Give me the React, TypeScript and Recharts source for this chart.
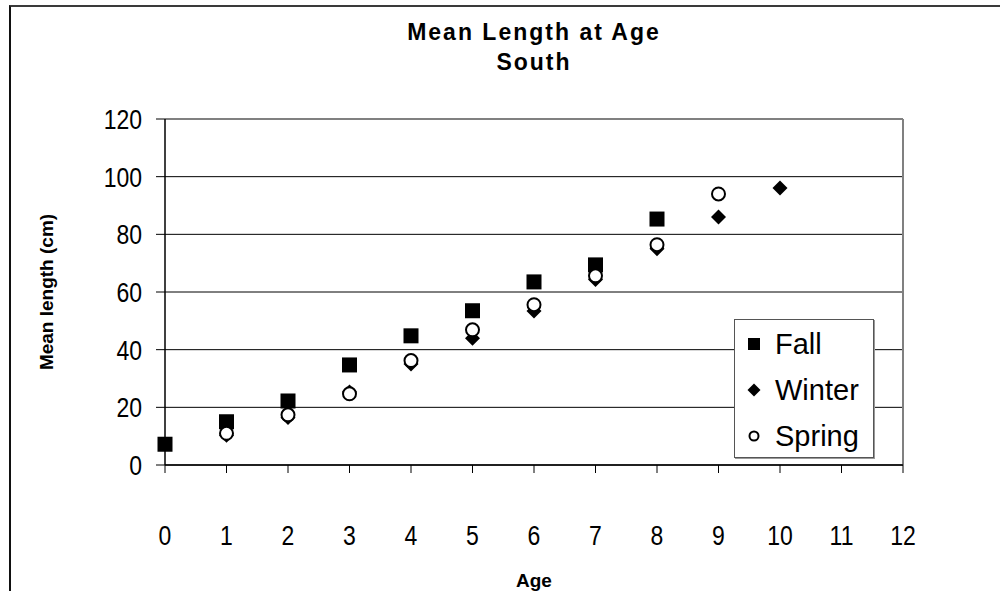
import React from "react";
import {
  ScatterChart,
  Scatter,
  XAxis,
  YAxis,
  CartesianGrid,
  ReferenceLine,
  Legend,
} from "recharts";

const fallAges = [0, 1, 2, 3, 4, 5, 6, 7, 8];
const fallLength = [7.2, 15.0, 22.2, 34.7, 44.8, 53.5, 63.5, 69.4, 85.3];

const winterAges = [1, 2, 3, 4, 5, 6, 7, 8, 9, 10];
const winterLength = [10.3, 16.5, 25.3, 35.0, 44.0, 53.4, 64.3, 75.0, 86.0, 96.1];

const springAges = [1, 2, 3, 4, 5, 6, 7, 8, 9];
const springLength = [11.0, 17.4, 24.7, 36.2, 46.9, 55.6, 65.6, 76.4, 94.0];

const ageTicks = [0, 1, 2, 3, 4, 5, 6, 7, 8, 9, 10, 11, 12];
const lengthTicks = [0, 20, 40, 60, 80, 100, 120];

const toPoints = (ages: number[], lengths: number[]) =>
  ages.map((age, i) => ({ age, length: lengths[i] }));

const fallData = toPoints(fallAges, fallLength);
const winterData = toPoints(winterAges, winterLength);
const springData = toPoints(springAges, springLength);

const FONT = "'Liberation Sans', Arial, sans-serif";

// the original's numbers look a bit stretched vertically
function XTick({ x, y, payload }: any) {
  return (
    <text
      transform={`translate(${x},${y}) scale(1,1.2)`}
      textAnchor="middle"
      dy="0.71em"
      fontFamily={FONT}
      fontSize={23}
      fill="#000"
    >
      {payload.value}
    </text>
  );
}

function YTick({ x, y, payload }: any) {
  return (
    <text
      transform={`translate(${x},${y}) scale(1,1.2)`}
      textAnchor="end"
      dy="0.36em"
      fontFamily={FONT}
      fontSize={23}
      fill="#000"
    >
      {payload.value}
    </text>
  );
}

function SquareMark({ cx, cy, s = 15 }: any) {
  return <rect x={cx - s / 2} y={cy - s / 2} width={s} height={s} fill="#000" />;
}

function DiamondMark({ cx, cy, s = 15 }: any) {
  const h = s / 2;
  return (
    <polygon
      points={`${cx},${cy - h} ${cx + h},${cy} ${cx},${cy + h} ${cx - h},${cy}`}
      fill="#000"
    />
  );
}

function CircleMark({ cx, cy, r = 6.5 }: any) {
  return <circle cx={cx} cy={cy} r={r} fill="#fff" stroke="#000" strokeWidth={2} />;
}

const legendItems = [
  { name: "Fall", mark: (x: number, y: number) => <SquareMark cx={x} cy={y} s={12} /> },
  { name: "Winter", mark: (x: number, y: number) => <DiamondMark cx={x} cy={y} s={13} /> },
  { name: "Spring", mark: (x: number, y: number) => <CircleMark cx={x} cy={y} r={4.5} /> },
];

function LegendBox() {
  return (
    <div
      style={{
        width: 138,
        height: 137,
        border: "1px solid #555",
        boxShadow: "1px 1px 0 #999",
        background: "#fff",
        fontFamily: FONT,
        fontSize: 29,
        color: "#000",
        position: "relative",
      }}
    >
      {legendItems.map((it, i) => (
        <div
          key={it.name}
          style={{
            position: "absolute",
            left: 0,
            top: 4 + i * 46,
            height: 40,
            display: "flex",
            alignItems: "center",
          }}
        >
          <svg width={40} height={40}>
            {it.mark(19, 20)}
          </svg>
          <span style={{ marginLeft: 0 }}>{it.name}</span>
        </div>
      ))}
    </div>
  );
}

export default function App() {
  return (
    <div
      style={{
        position: "absolute",
        left: 0,
        top: 0,
        width: 1000,
        height: 591,
        overflow: "hidden",
        background: "#fff",
      }}
    >
      <div
        style={{
          position: "absolute",
          left: 9,
          top: 5,
          width: 1100,
          height: 700,
          borderTop: "2px solid #3a3a3a",
          borderLeft: "2px solid #111",
        }}
      />
      <div
        style={{
          position: "absolute",
          left: 234,
          width: 600,
          top: 17,
          textAlign: "center",
          fontFamily: FONT,
          fontWeight: "bold",
          fontSize: 23,
          letterSpacing: 2,
          lineHeight: "30px",
          color: "#000",
        }}
      >
        <div>Mean Length at Age</div>
        <div>South</div>
      </div>
      <div
        style={{
          position: "absolute",
          left: 47,
          top: 292,
          transform: "translate(-50%, -50%) rotate(-90deg)",
          whiteSpace: "nowrap",
          fontFamily: FONT,
          fontWeight: "bold",
          fontSize: 19,
          color: "#000",
        }}
      >
        Mean length (cm)
      </div>
      <div
        style={{
          position: "absolute",
          left: 534,
          top: 581,
          transform: "translate(-50%, -50%)",
          fontFamily: FONT,
          fontWeight: "bold",
          fontSize: 19,
          color: "#000",
        }}
      >
        Age
      </div>
      <div style={{ position: "absolute", left: 0, top: 0 }}>
        <ScatterChart
          width={1000}
          height={591}
          margin={{ top: 119, right: 97, bottom: 26, left: 65 }}
        >
          <CartesianGrid horizontal vertical={false} stroke="#000" strokeWidth={1} />
          <XAxis
            type="number"
            dataKey="age"
            domain={[0, 12]}
            ticks={ageTicks}
            interval={0}
            height={100}
            tickSize={8}
            tickMargin={52}
            axisLine={{ stroke: "#000", strokeWidth: 1.5 }}
            tickLine={{ stroke: "#000" }}
            tick={(p: any) => <XTick {...p} />}
          />
          <YAxis
            type="number"
            dataKey="length"
            domain={[0, 120]}
            ticks={lengthTicks}
            interval={0}
            width={100}
            tickSize={9}
            tickMargin={14}
            axisLine={{ stroke: "#000", strokeWidth: 1.5 }}
            tickLine={{ stroke: "#000" }}
            tick={(p: any) => <YTick {...p} />}
          />
          <ReferenceLine y={120} stroke="#808080" strokeWidth={2} />
          <ReferenceLine x={12} stroke="#808080" strokeWidth={2} />
          <Legend
            layout="vertical"
            align="center"
            verticalAlign="middle"
            content={() => <LegendBox />}
            wrapperStyle={{ left: 734, top: 319, width: 140, height: 139 }}
          />
          <Scatter
            name="Fall"
            data={fallData}
            shape={(p: any) => <SquareMark {...p} />}
            isAnimationActive={false}
          />
          <Scatter
            name="Winter"
            data={winterData}
            shape={(p: any) => <DiamondMark {...p} />}
            isAnimationActive={false}
          />
          <Scatter
            name="Spring"
            data={springData}
            shape={(p: any) => <CircleMark {...p} />}
            isAnimationActive={false}
          />
        </ScatterChart>
      </div>
    </div>
  );
}
